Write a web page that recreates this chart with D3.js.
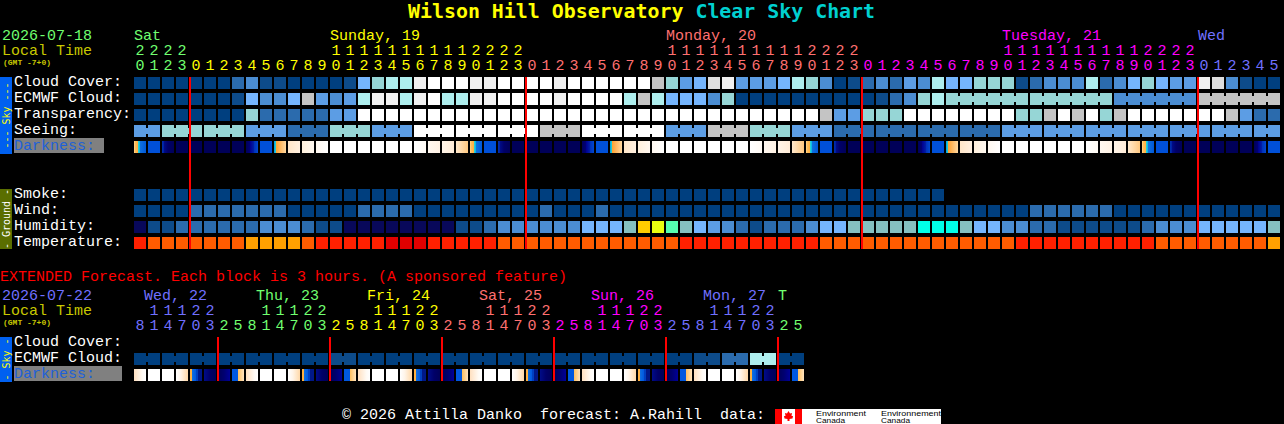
<!DOCTYPE html>
<html>
<head>
<meta charset="utf-8">
<script src="https://cdn.jsdelivr.net/npm/d3@7"></script>
<style>
html,body{margin:0;padding:0;background:#000;overflow:hidden}
svg{display:block}
text{font-family:"Liberation Mono",monospace;font-size:15px;white-space:pre}
</style>
</head>
<body>
<div id="chart"></div>
<script>
// ---- hour ticks ----
const hourLabels = [20,21,22,23,0,1,2,3,4,5,6,7,8,9,10,11,12,13,14,15,16,17,18,19,20,21,22,23,0,1,2,3,4,5,6,7,8,9,10,11,12,13,14,15,16,17,18,19,20,21,22,23,0,1,2,3,4,5,6,7,8,9,10,11,12,13,14,15,16,17,18,19,20,21,22,23,0,1,2,3,4,5];
const hourDays = [0,0,0,0,1,1,1,1,1,1,1,1,1,1,1,1,1,1,1,1,1,1,1,1,1,1,1,1,2,2,2,2,2,2,2,2,2,2,2,2,2,2,2,2,2,2,2,2,2,2,2,2,3,3,3,3,3,3,3,3,3,3,3,3,3,3,3,3,3,3,3,3,3,3,3,3,4,4,4,4,4,4];
const dayNames = ["Sat","Sunday, 19","Monday, 20","Tuesday, 21","Wed"];
const dayColumns = [0,14,38,62,76];
const dayColors = ["#70ff70","#ffff00","#ff7070","#ff00ff","#7070ff"];
const midnightColumns = [4,28,52,76];

const extHours = [8,11,14,17,20,23,2,5,8,11,14,17,20,23,2,5,8,11,14,17,20,23,2,5,8,11,14,17,20,23,2,5,8,11,14,17,20,23,2,5,8,11,14,17,20,23,2,5];
const extDays = [0,0,0,0,0,0,1,1,1,1,1,1,1,1,2,2,2,2,2,2,2,2,3,3,3,3,3,3,3,3,4,4,4,4,4,4,4,4,5,5,5,5,5,5,5,5,6,6];
const extDayNames = ["Wed, 22","Thu, 23","Fri, 24","Sat, 25","Sun, 26","Mon, 27","T"];
const extDayPx = [144,256,367,479,591,703,778];
const extDayColors = ["#7070ff","#70ff70","#ffff00","#ff7070","#ff00ff","#7070ff","#70ff70"];
const extMidnights = [6,14,22,30,38,46];

// ---- series: levels index into the level palette ----
const cloudCover = [0,0,0,0,0,0,0,2,3,1,1,0,0,0,0,1,5,6,7,7,10,11,11,11,10,10,11,11,11,11,10,11,11,11,11,11,11,8,6,4,5,9,10,4,4,4,5,7,6,3,0,1,2,3,2,4,3,7,5,5,6,6,6,1,2,3,3,3,7,2,3,5,6,5,4,4,10,9,3,1,0,0];
const ecmwfCloud = [0,0,0,0,0,0,0,1,5,3,3,5,8,4,3,4,7,10,10,7,10,11,7,7,10,10,11,11,11,11,10,11,11,11,11,7,8,7,5,5,5,3,6,0,0,0,0,0,0,0,0,0,0,1,2,3,6,7,6,6,6,6,6,6,6,6,6,6,6,6,3,3,3,3,3,3,8,8,8,8,8,8];
const transparency = [0,0,0,0,0,0,0,0,6,2,2,2,2,2,4,4,11,11,11,11,11,11,11,11,11,11,11,11,11,11,11,11,11,11,11,11,11,11,11,11,11,11,11,11,11,11,11,11,11,8,4,4,6,6,6,11,11,11,11,11,11,11,11,6,6,8,11,8,11,6,8,11,11,11,11,11,11,11,8,4,2,2];
const seeing = [4,4,6,6,6,6,6,6,4,4,4,2,2,2,6,6,6,4,4,4,11,11,11,11,11,11,11,11,11,8,8,8,11,11,11,11,11,11,4,4,4,8,8,8,6,6,6,4,4,4,2,2,2,2,2,2,2,2,2,2,2,2,4,4,4,4,4,4,4,4,4,4,4,4,4,4,4,4,4,4,4,4];
const smoke = [0,0,0,0,0,0,0,0,0,0,0,0,0,0,0,0,0,0,0,0,0,0,0,0,0,0,0,0,0,0,0,0,0,0,0,0,0,0,0,0,0,0,0,0,0,0,0,0,0,0,0,0,0,0,0,0,0,0];
const wind = [0,0,0,0,2,2,2,2,2,2,2,0,0,0,0,0,2,2,2,2,0,0,0,0,0,0,0,0,0,2,0,0,0,2,0,0,0,0,0,0,0,0,0,0,0,0,0,0,0,0,0,0,0,0,0,0,0,0,0,0,0,0,0,0,2,2,2,2,2,2,0,0,0,0,0,0,0,0,0,0,0,0];
const humidity = [12,1,1,2,2,2,2,2,2,3,3,3,2,1,1,12,12,12,12,12,12,12,12,1,1,2,3,3,3,3,3,3,5,5,5,13,14,15,16,13,5,4,3,2,1,2,2,2,3,5,5,13,13,13,13,13,17,17,17,13,5,5,3,3,2,2,1,1,1,1,1,1,2,3,3,3,5,5,5,5,5,13];
const temperature = [18,19,19,19,19,19,19,19,20,20,20,20,19,18,18,18,18,18,21,21,21,18,18,18,18,18,19,19,19,19,19,19,19,19,19,19,19,19,19,18,18,18,18,18,18,18,18,18,18,19,19,19,19,19,19,19,19,19,19,19,19,19,19,18,18,18,18,18,18,18,18,18,18,19,19,19,19,19,19,19,19,20];
const extEcmwf = [0,0,0,0,0,0,0,0,0,0,0,0,0,0,1,1,0,0,0,0,0,0,0,0,0,0,0,0,0,0,0,0,0,0,0,0,0,0,0,0,1,1,2,2,7,7,0,0];

// block sizes of cells that share one forecast value
const ecmwfBlocks = [58,6,6,6,6];
const seeingBlocks = [2,3,3,3,3,3,3,3,3,3,3,3,3,3,3,3,3,3,3,3,3,3,3,3,3,3,3,2];
const extBlocks = [2,2,2,2,2,2,2,2,2,2,2,2,2,2,2,2,2,2,2,2,2,2,2,2];

// darkness cell kinds, one per block
const darkness = ["set","blue","dusk","navy","navy","navy","navy","navy","dawn","blue","rise","p1","p2","p3","white","white","white","white","white","white","e1","e2","e3","e4",
"set","blue","dusk","navy","navy","navy","navy","navy","dawn","blue","rise","p1","p2","p3","white","white","white","white","white","white","e1","e2","e3","e4",
"set","blue","dusk","navy","navy","navy","navy","navy","dawn","blue","rise","p1","p2","p3","white","white","white","white","white","white","e1","e2","e3","e4",
"set","blue","dusk","navy","navy","navy","navy","navy","dawn","blue"];
const extDarkness = ["x0","white","white","x3","x4","x5","x6","x7","x0","white","white","x3","x4","x5","x6","x7","x0","white","white","x3","x4","x5","x6","x7","x0","white","white","x3","x4","x5","x6","x7","x0","white","white","x3","x4","x5","x6","x7","x0","white","white","x3","x4","x5","x6","x7"];

const rowLabels = ["Cloud Cover:","ECMWF Cloud:","Transparency:","Seeing:","Darkness:"];
const groundLabels = ["Smoke:","Wind:","Humidity:","Temperature:"];
const extLabels = ["Cloud Cover:","ECMWF Cloud:","Darkness:"];

// ---- style tables ----
const levelColor = ["#003f7f","#0d4b8a","#2b6bad","#4b8dd2","#5c9de4","#75b5fd","#96d6d6","#aeeeee","#c4c4c4","#dedede","#f0f0f0","#ffffff",
 "#08085a","#85c0c0","#ffcc00","#eaff10","#55ffb0","#00ffe8","#ff2000","#ff5c00","#ffa000","#e00000"];
const gradients = {
  set:[[0,"#ffe0a0"],[.08,"#ffc060"],[.33,"#ffb040"],[.34,"#30d8d8"],[.5,"#00b0e8"],[.51,"#1070e0"],[1,"#0058d8"]],
  blue:[[0,"#0050d8"],[1,"#0050d8"]],
  dusk:[[0,"#0030b0"],[.16,"#0020a0"],[.17,"#000c88"],[.5,"#000068"],[1,"#000058"]],
  navy:[[0,"#000058"],[1,"#000058"]],
  dawn:[[0,"#000058"],[.34,"#000078"],[.35,"#000090"],[.66,"#0020a8"],[.67,"#0030b8"],[1,"#0048d0"]],
  rise:[[0,"#0098e0"],[.16,"#20d8d8"],[.17,"#ffa030"],[1,"#ffd8a0"]],
  p1:[[0,"#ffe6c8"],[1,"#fff0e0"]],
  p2:[[0,"#fff0dc"],[1,"#fff8f0"]],
  p3:[[0,"#fff8f0"],[1,"#ffffff"]],
  white:[[0,"#ffffff"],[1,"#ffffff"]],
  e1:[[0,"#ffffff"],[1,"#fffaf4"]],
  e2:[[0,"#fff8f0"],[1,"#fff2e4"]],
  e3:[[0,"#fff4e8"],[1,"#ffecd8"]],
  e4:[[0,"#ffe8cc"],[1,"#ffc880"]],
  x0:[[0,"#ffe0c0"],[.7,"#fffaf4"],[1,"#ffffff"]],
  x3:[[0,"#ffffff"],[.4,"#fff4e8"],[1,"#ffd8a8"]],
  x4:[[0,"#ffb040"],[.16,"#ffb040"],[.17,"#1070e0"],[.5,"#0058e0"],[.51,"#0040c0"],[.66,"#0040c0"],[.67,"#001888"],[1,"#001888"]],
  x5:[[0,"#000c88"],[.5,"#000068"],[1,"#000058"]],
  x6:[[0,"#000058"],[.5,"#000070"],[1,"#000098"]],
  x7:[[0,"#0058e0"],[.5,"#0058e0"],[.51,"#ffc060"],[1,"#ffe4c0"]]
};

// ---- scales ----
const CELL = 12;
const x = d3.scaleLinear().domain([0,1]).range([134,148]);
const yMain = d3.scaleOrdinal().domain(rowLabels).range([77,93,109,125,141]);
const yGround = d3.scaleOrdinal().domain(groundLabels).range([189,205,221,237]);
const yExt = d3.scaleOrdinal().domain(extLabels).range([337,353,369]);

const svg = d3.select("#chart").append("svg").attr("width",1284).attr("height",424).attr("shape-rendering","crispEdges");
svg.append("rect").attr("width",1284).attr("height",424).attr("fill","#000");

const defs = svg.append("defs");
Object.entries(gradients).forEach(([k,stops])=>{
  const g = defs.append("linearGradient").attr("id","g-"+k);
  g.selectAll("stop").data(stops).join("stop").attr("offset",d=>d[0]).attr("stop-color",d=>d[1]);
});

function label(t,px,py,color,extra){
  const n = svg.append("text").attr("x",px).attr("y",py).attr("fill",color).text(t);
  if(extra) Object.entries(extra).forEach(([a,b])=>n.style(a,b));
  return n;
}

function cells(values,y0){
  svg.append("g").selectAll("rect").data(values).join("rect")
    .attr("x",(d,i)=>x(i)).attr("y",y0).attr("width",CELL).attr("height",CELL)
    .attr("fill",d=>levelColor[d]);
}
function necks(values,blocks,y0){
  let start = 0; const links = [];
  blocks.forEach(b=>{ if(b<58) for(let i=start;i<start+b-1;i++) links.push(i); start+=b; });
  svg.append("g").selectAll("rect").data(links).join("rect")
    .attr("x",i=>x(i)+CELL).attr("y",y0+3).attr("width",2).attr("height",6)
    .attr("fill",i=>levelColor[values[i]]);
}
function darkCells(kinds,y0){
  svg.append("g").selectAll("rect").data(kinds).join("rect")
    .attr("x",(d,i)=>x(i)).attr("y",y0).attr("width",CELL).attr("height",CELL)
    .attr("fill",d=>`url(#g-${d})`);
}

// ---- title ----
const title = svg.append("text").attr("x",408).attr("y",18).style("font-family","'DejaVu Sans Mono',monospace").style("font-weight","bold").style("font-size","19.9px");
title.append("tspan").attr("fill","#ffff00").text("Wilson Hill Observatory ");
title.append("tspan").attr("fill","#00d0d0").text("Clear Sky Chart");

// ---- main header ----
label("2026-07-18",2,40,"#70ff70");
label("Local Time",2,55,"#c8c800");
label("(GMT -7+0)",3,65,"#c8c800",{"font-size":"8px","font-weight":"bold"});
dayNames.forEach((n,i)=>label(n,x(dayColumns[i]),40,dayColors[i]));
const hourG = svg.append("g").attr("text-anchor","middle");
hourLabels.forEach((h,i)=>{
  const c = dayColors[hourDays[i]];
  if(h>=10) hourG.append("text").attr("x",x(i)+6).attr("y",55).attr("fill",c).text(Math.floor(h/10));
  hourG.append("text").attr("x",x(i)+6).attr("y",70).attr("fill",c).text(h%10);
});

// ---- side bars ----
function sideBar(y0,h,color,txt,tcolor){
  svg.append("rect").attr("x",0).attr("y",y0).attr("width",12).attr("height",h).attr("fill",color);
  svg.append("text").attr("transform",`translate(9.5,${y0+h/2}) rotate(-90)`).attr("text-anchor","middle")
    .attr("fill",tcolor).style("font-family","'DejaVu Sans Mono',monospace").style("font-size","10px").text(txt);
}
sideBar(77,77,"#0060f0","--- Sky ---","#ffff00");
sideBar(189,60,"#5a6e00","- Ground -","#ffffff");
sideBar(337,45,"#0060f0","- Sky -","#ffff00");

// ---- row labels ----
rowLabels.forEach(t=>{
  if(t==="Darkness:"){
    svg.append("rect").attr("x",14).attr("y",138).attr("width",90).attr("height",15).attr("fill","#808080");
    label(t,14,yMain(t)+9,"#2060d8");
  } else label(t,14,yMain(t)+9,"#ffffff");
});
groundLabels.forEach(t=>label(t,14,yGround(t)+9,"#ffffff"));

// ---- main rows ----
cells(cloudCover,yMain("Cloud Cover:"));
cells(ecmwfCloud,yMain("ECMWF Cloud:")); necks(ecmwfCloud,ecmwfBlocks,yMain("ECMWF Cloud:"));
cells(transparency,yMain("Transparency:"));
cells(seeing,yMain("Seeing:")); necks(seeing,seeingBlocks,yMain("Seeing:"));
darkCells(darkness,yMain("Darkness:"));
cells(smoke,yGround("Smoke:"));
cells(wind,yGround("Wind:"));
cells(humidity,yGround("Humidity:"));
cells(temperature,yGround("Temperature:"));

svg.append("g").selectAll("rect").data(midnightColumns).join("rect")
  .attr("x",d=>x(d)-1).attr("y",77).attr("width",2).attr("height",172).attr("fill","#ff0000");

// ---- extended ----
label("EXTENDED Forecast. Each block is 3 hours. (A sponsored feature)",0,281,"#ff0000");
label("2026-07-22",2,300,"#7070ff");
label("Local Time",2,315,"#c8c800");
label("(GMT -7+0)",3,325,"#c8c800",{"font-size":"8px","font-weight":"bold"});
extDayNames.forEach((n,i)=>label(n,extDayPx[i],300,extDayColors[i]));
const extG = svg.append("g").attr("text-anchor","middle");
extHours.forEach((h,i)=>{
  const c = extDayColors[extDays[i]];
  if(h>=10) extG.append("text").attr("x",x(i)+6).attr("y",315).attr("fill",c).text(Math.floor(h/10));
  extG.append("text").attr("x",x(i)+6).attr("y",330).attr("fill",c).text(h%10);
});
extLabels.forEach(t=>{
  if(t==="Darkness:"){
    svg.append("rect").attr("x",14).attr("y",366).attr("width",108).attr("height",15).attr("fill","#808080");
    label(t,14,yExt(t)+9,"#2060d8");
  } else label(t,14,yExt(t)+9,"#ffffff");
});
cells(extEcmwf,yExt("ECMWF Cloud:")); necks(extEcmwf,extBlocks,yExt("ECMWF Cloud:"));
darkCells(extDarkness,yExt("Darkness:"));
svg.append("g").selectAll("rect").data(extMidnights).join("rect")
  .attr("x",d=>x(d)-1).attr("y",337).attr("width",2).attr("height",44).attr("fill","#ff0000");

// ---- footer ----
label("© 2026 Attilla Danko  forecast: A.Rahill  data:",342,419.4,"#ffffff");
svg.append("rect").attr("x",775).attr("y",409).attr("width",166).attr("height",15).attr("fill","#ffffff");
svg.append("rect").attr("x",775).attr("y",409).attr("width",7).attr("height",15).attr("fill","#ff0000");
svg.append("rect").attr("x",795).attr("y",409).attr("width",7).attr("height",15).attr("fill","#ff0000");
svg.append("path").attr("d","M788.5 411l1.5 2.5 2-.5-.5 3 1.5 0-.5 2.5-3 .5 0 2h-2l0-2-3-.5-.5-2.5 1.5 0-.5-3 2 .5z").attr("fill","#ff0000").attr("shape-rendering","auto");
[["Environment",816,416,50],["Canada",816,423,29],["Environnement",881,416,60],["Canada",881,423,29]].forEach(d=>{
  svg.append("text").attr("x",d[1]).attr("y",d[2]).attr("fill","#000").attr("textLength",d[3]).attr("lengthAdjust","spacingAndGlyphs")
    .style("font-size","8px").style("font-family","'Liberation Sans',sans-serif").text(d[0]);
});
</script>
</body>
</html>
